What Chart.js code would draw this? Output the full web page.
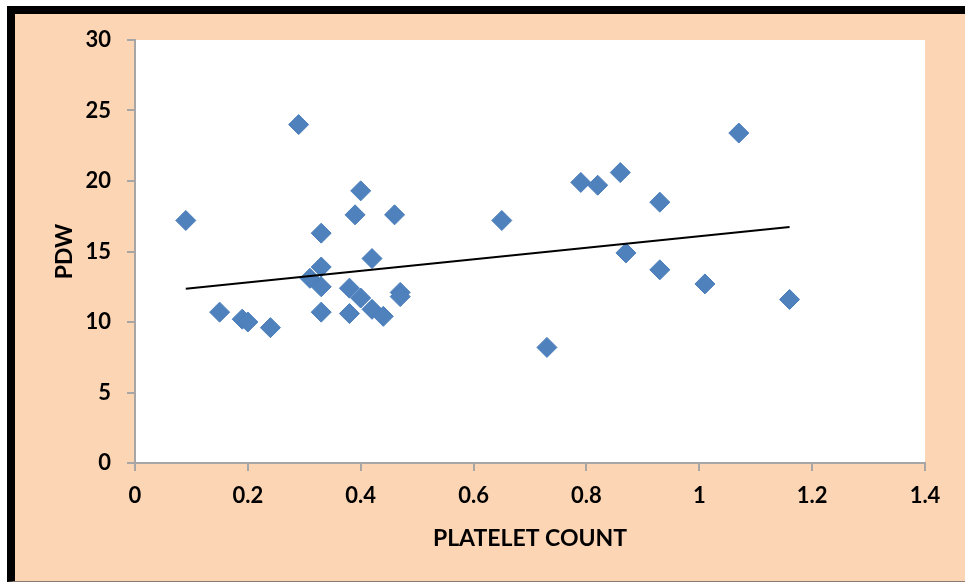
<!DOCTYPE html>
<html>
<head>
<meta charset="utf-8">
<script src="https://cdn.jsdelivr.net/npm/chart.js@4.4.1/dist/chart.umd.min.js"></script>
<style>
    html, body { margin: 0; padding: 0; background: #fff; overflow: hidden; }
    #wrap { position: relative; width: 965px; height: 583px; overflow: hidden; background: #fff; }
    #frame {
        position: absolute; left: 7px; top: 6px; right: 0; bottom: 1px;
        background: #fcd5b4;
        border-left: 8px solid #000; border-top: 8px solid #000;
        border-right: 0; border-bottom: 1px solid #8a7a70;
        box-sizing: border-box;
    }
    #chart { position: absolute; left: 0; top: 0; }
</style>
</head>
<body>
<div id="wrap">
    <div id="frame"></div>
    <canvas id="chart" width="965" height="583"></canvas>
</div>
<script>
// platelet count (x) vs PDW (y)
const platelet = [0.09, 0.15, 0.19, 0.20, 0.24, 0.29, 0.31, 0.33, 0.33, 0.33, 0.33,
    0.38, 0.38, 0.39, 0.40, 0.40, 0.42, 0.42, 0.44, 0.46, 0.47, 0.47,
    0.65, 0.73, 0.79, 0.82, 0.86, 0.87, 0.93, 0.93, 1.01, 1.07, 1.16];
const pdw = [17.2, 10.7, 10.2, 10.0, 9.6, 24.0, 13.1, 16.3, 13.9, 12.5, 10.7,
    12.4, 10.6, 17.6, 19.3, 11.7, 14.5, 10.9, 10.4, 17.6, 12.1, 11.8,
    17.2, 8.2, 19.9, 19.7, 20.6, 14.9, 18.5, 13.7, 12.7, 23.4, 11.6];

// linear trend line end points
const trendX = [0.09, 1.16];
const trendY = [12.36, 16.74];

const xTicks = [0, 0.2, 0.4, 0.6, 0.8, 1, 1.2, 1.4];
const yTicks = [0, 5, 10, 15, 20, 25, 30];

const FONT = 'Lato, Calibri, "Open Sans", sans-serif';
const AXIS = '#a6a6a6';

const plotBg = {
    id: 'plotBg',
    beforeDraw(chart) {
        const { ctx, chartArea: a } = chart;
        ctx.save();
        ctx.fillStyle = '#fff';
        ctx.fillRect(a.left, a.top, a.right - a.left, a.bottom - a.top);
        ctx.restore();
    }
};

new Chart(document.getElementById('chart').getContext('2d'), {
    type: 'scatter',
    data: {
        datasets: [
            {
                type: 'line',
                label: 'Linear',
                data: trendX.map((x, i) => ({ x, y: trendY[i] })),
                borderColor: '#000',
                borderWidth: 2,
                pointRadius: 0,
                fill: false,
                order: 0
            },
            {
                label: 'PDW',
                data: platelet.map((x, i) => ({ x, y: pdw[i] })),
                pointStyle: 'rectRot',
                pointRadius: 10,
                backgroundColor: '#4f81bd',
                borderColor: '#4a7ebb',
                borderWidth: 1,
                order: 1
            }
        ]
    },
    options: {
        responsive: false,
        animation: false,
        layout: { padding: { top: 40, right: 40, left: 0, bottom: 0 } },
        plugins: { legend: { display: false }, tooltip: { enabled: false } },
        scales: {
            x: {
                type: 'linear', min: 0, max: 1.4,
                afterFit: s => { s.height = 120; },
                afterBuildTicks: s => { s.ticks = xTicks.map(v => ({ value: v })); },
                grid: { drawOnChartArea: false, color: AXIS, tickLength: 8, lineWidth: 2 },
                border: { color: AXIS, width: 2 },
                ticks: {
                    color: '#000', padding: 12,
                    font: { family: FONT, size: 22, weight: 'bold' },
                    callback: v => String(v)
                },
                title: {
                    display: true, text: 'PLATELET COUNT', color: '#000',
                    font: { family: FONT, size: 23, weight: 'bold' },
                    padding: { top: 0, bottom: 31 }
                }
            },
            y: {
                type: 'linear', min: 0, max: 30,
                afterFit: s => { s.width = 135; },
                afterBuildTicks: s => { s.ticks = yTicks.map(v => ({ value: v })); },
                grid: { drawOnChartArea: false, color: AXIS, tickLength: 8, lineWidth: 2 },
                border: { color: AXIS, width: 2 },
                ticks: {
                    color: '#000', padding: 16,
                    font: { family: FONT, size: 22, weight: 'bold' },
                    callback: v => String(v)
                },
                title: {
                    display: true, text: 'PDW', color: '#000',
                    font: { family: FONT, size: 23, weight: 'bold' },
                    padding: { top: 51, bottom: 0 }
                }
            }
        }
    },
    plugins: [plotBg]
});
</script>
</body>
</html>
